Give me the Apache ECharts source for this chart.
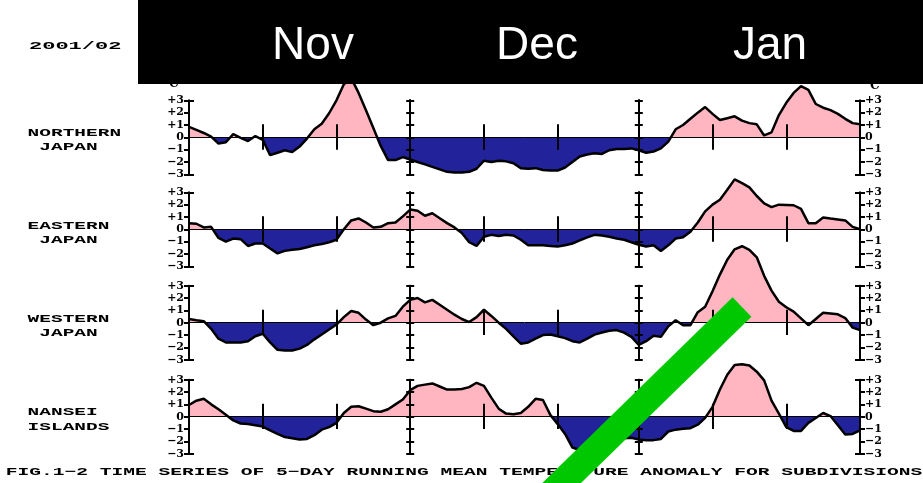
<!DOCTYPE html>
<html><head><meta charset="utf-8">
<script src="https://cdn.jsdelivr.net/npm/echarts@6/dist/echarts.min.js"></script>
<style>html,body{margin:0;padding:0;background:#fff}#c{width:923px;height:483px}</style>
</head><body><div id="c"></div>
<script>
// ---- data ----
const monthNames = ['Nov', 'Dec', 'Jan'];
const monthNums = [11, 12, 1];
const monthDays = [30, 31, 31];
const categories = [];
monthNums.forEach((m, k) => { for (let d = 1; d <= monthDays[k]; d++) categories.push(m + '/' + d); });

const regionNames = [['NORTHERN', 'JAPAN'], ['EASTERN', 'JAPAN'], ['WESTERN', 'JAPAN'], ['NANSEI', 'ISLANDS']];

const northern = [0.85,0.6,0.35,0.05,-0.5,-0.4,0.25,-0.05,-0.3,0.1,
-0.2,-1.45,-1.25,-1.05,-1.2,-0.75,-0.1,0.65,1.1,1.95,
3.0,4.3,4.8,3.6,2.2,0.75,-0.7,-1.85,-1.85,-1.6,
-1.8,-2.0,-2.2,-2.4,-2.6,-2.8,-2.85,-2.85,-2.8,-2.55,
-1.9,-2.0,-1.9,-1.95,-2.1,-2.5,-2.55,-2.5,-2.65,-2.7,
-2.7,-2.45,-2.0,-1.55,-1.4,-1.3,-1.35,-1.05,-0.95,-0.95,
-0.9,-1.05,-1.25,-1.15,-0.9,-0.35,0.65,1.0,1.5,2.0,
2.45,1.9,1.4,1.55,1.7,1.35,1.15,1.05,0.15,0.4,
1.8,2.8,3.6,4.15,3.85,2.7,2.4,2.2,1.9,1.5,
1.15,1.05];

const eastern = [0.5,0.45,0.15,0.2,-0.7,-1.0,-0.75,-0.8,-1.35,-1.15,
-1.15,-1.55,-1.95,-1.75,-1.65,-1.6,-1.45,-1.3,-1.2,-1.05,
-0.85,0.0,0.72,0.88,0.55,0.15,0.2,0.5,0.55,1.05,
1.6,1.5,1.1,1.3,0.9,0.5,0.15,-0.3,-1.05,-1.35,
-0.6,-0.45,-0.55,-0.45,-0.5,-0.85,-1.3,-1.3,-1.3,-1.35,
-1.4,-1.3,-1.15,-0.9,-0.65,-0.45,-0.5,-0.6,-0.75,-0.85,
-1.05,-1.25,-1.4,-1.3,-1.75,-1.3,-0.75,-0.65,-0.2,0.55,
1.45,2.0,2.4,3.2,4.05,3.75,3.4,2.7,2.1,1.8,
2.0,1.98,1.95,1.65,0.5,0.5,0.95,0.87,0.8,0.72,
0.2,0.0];

const western = [0.3,0.2,0.12,-0.5,-1.3,-1.6,-1.6,-1.6,-1.5,-1.1,
-0.9,-1.6,-2.2,-2.25,-2.25,-2.1,-1.8,-1.35,-0.95,-0.55,
-0.15,0.45,0.95,0.8,0.25,-0.2,0.0,0.35,0.55,1.3,
1.85,2.0,1.65,1.85,1.45,1.05,0.65,0.3,0.05,0.45,
1.05,0.55,0.0,-0.5,-1.1,-1.7,-1.6,-1.3,-1.0,-0.95,
-1.1,-1.25,-1.5,-1.6,-1.3,-0.97,-0.8,-0.65,-0.6,-0.8,
-1.15,-1.8,-1.5,-1.05,-1.15,-0.3,0.2,-0.2,-0.2,0.85,
1.3,2.55,3.9,5.1,5.95,6.2,5.9,5.3,3.8,2.6,
1.7,1.25,0.9,0.35,-0.2,0.3,0.8,0.75,0.68,0.38,
-0.4,-0.6];

const nansei = [0.95,1.3,1.45,1.0,0.6,0.15,-0.3,-0.55,-0.6,-0.7,
-0.8,-1.1,-1.4,-1.65,-1.75,-1.85,-1.8,-1.5,-1.05,-0.85,
-0.5,0.3,0.8,0.85,0.65,0.45,0.4,0.6,1.0,1.4,
2.15,2.5,2.6,2.7,2.45,2.2,2.2,2.25,2.4,2.75,
2.5,1.55,0.65,0.25,0.2,0.3,0.8,1.45,1.35,0.15,
-0.6,-1.4,-2.5,-2.7,-2.8,-2.6,-2.2,-1.9,-1.8,-1.75,
-1.7,-1.85,-1.9,-1.9,-1.8,-1.2,-1.05,-0.98,-0.93,-0.65,
-0.1,0.8,2.2,3.4,4.2,4.25,4.15,3.65,2.95,1.3,
0.25,-0.85,-1.15,-1.15,-0.5,-0.1,0.3,0.05,-0.7,-1.45,
-1.4,-1.1];

const seriesData = [northern, eastern, western, nansei];
const tenDayTicks = ['11/11', '11/21', '12/11', '12/21', '1/11', '1/21'];
const monthStarts = ['12/1', '1/1'];
const yearLabel = '2001/02';
const caption = 'FIG.1\u22122 TIME SERIES OF 5\u2212DAY RUNNING MEAN TEMPERATURE ANOMALY FOR SUBDIVISIONS';

// ---- layout ----
const PINK = '#ffb6c1', NAVY = '#22229a';
const plotLeft = 189, plotWidth = 671;
const gridTops = [100.3, 192.3, 285.7, 379.7];
const gridH = 74;
const labelFont = {color: '#000', fontFamily: 'DejaVu Serif', fontWeight: 'bold', fontSize: 11};
const fmt = v => v > 0 ? '+' + v : (v < 0 ? '\u2212' + (-v) : '0');
const blackLine = {color: '#000', width: 2};

const grid = [], xAxis = [], yAxis = [], series = [];
gridTops.forEach((top, g) => {
  grid.push({left: plotLeft, width: plotWidth, top: top, height: gridH, containLabel: false, outerBoundsMode: 'none'});
  const base = yAxis.length;
  xAxis.push({gridIndex: g, type: 'category', data: categories, boundaryGap: false, z: 4,
    axisLine: {onZero: true, onZeroAxisIndex: base, lineStyle: {color: '#000', width: 1}},
    axisTick: {show: false}, axisLabel: {show: false}, splitLine: {show: false}});
  const common = {gridIndex: g, type: 'value', min: -3, max: 3, interval: 1, splitLine: {show: false}, z: 4};
  ['left', 'right'].forEach(pos => {
    yAxis.push(Object.assign({}, common, {position: pos,
      axisLine: {show: true, onZero: false, lineStyle: blackLine},
      axisTick: {show: true, inside: false, length: 5, lineStyle: blackLine},
      axisLabel: Object.assign({show: true, margin: 5, formatter: fmt}, labelFont)}));
    yAxis.push(Object.assign({}, common, {position: pos,
      axisLine: {show: false, onZero: false},
      axisTick: {show: true, inside: true, length: 5, customValues: [-3, 3], lineStyle: blackLine},
      axisLabel: {show: false}}));
  });
  monthStarts.forEach(c => {
    const off = -(categories.indexOf(c) / (categories.length - 1)) * plotWidth;
    [false, true].forEach(inside => {
      yAxis.push(Object.assign({}, common, {position: 'left', offset: off,
        axisLine: {show: true, onZero: false, lineStyle: blackLine},
        axisTick: {show: true, inside: inside, length: 4, lineStyle: blackLine},
        axisLabel: {show: false}}));
    });
  });
  series.push({type: 'line', name: regionNames[g].join(' '), xAxisIndex: g, yAxisIndex: base,
    data: seriesData[g], symbol: 'none', showSymbol: false, clip: false, z: 2,
    lineStyle: {color: '#000', width: 2.5}, areaStyle: {opacity: 1},
    emphasis: {disabled: true}, silent: true,
    markLine: {silent: true, symbol: 'none', animation: false, label: {show: false},
      emphasis: {disabled: true}, z: 5,
      lineStyle: {color: '#000', width: 2, type: 'solid'},
      data: tenDayTicks.map(c => [{coord: [categories.indexOf(c), 1.05]}, {coord: [categories.indexOf(c), -1]}])}
  });
});

// ---- text / decorations ----
const monoFont = 'bold 11px "Liberation Mono"';
const SX = 1.77, COL = 11.7, COL0 = 27.6;
const regionY = [[133, 147.2], [226.5, 240.5], [319, 333.5], [412.2, 427.2]];
const regionCol = [[0, 1], [0, 1], [0, 1], [0, 0]];
const graphic = [];
graphic.push({type: 'text', x: 163, y: 90, z: 50, style: {text: '\u00b0C', font: 'bold 12px "DejaVu Serif"', fill: '#000', align: 'left', verticalAlign: 'bottom'}});
graphic.push({type: 'text', x: 864, y: 91.5, z: 50, style: {text: '\u00b0C', font: 'bold 12px "DejaVu Serif"', fill: '#000', align: 'left', verticalAlign: 'bottom'}});
graphic.push({type: 'rect', shape: {x: 138, y: 0, width: 785, height: 84}, style: {fill: '#000'}, z: 100});
const monthX = [313, 537, 770];
monthNames.forEach((m, k) => graphic.push({type: 'text', x: monthX[k], y: 46, z: 101,
  style: {text: m, font: '46px "Liberation Sans"', fill: '#fff', align: 'center', verticalAlign: 'middle'}}));
graphic.push({type: 'text', x: 29, y: 46, scaleX: 2.0, z: 101, style: {text: yearLabel, font: monoFont, fill: '#000', align: 'left', verticalAlign: 'middle'}});
regionNames.forEach((pair, g) => pair.forEach((t, j) => graphic.push({type: 'text',
  x: COL0 + regionCol[g][j] * COL, y: regionY[g][j], scaleX: SX, z: 101,
  style: {text: t, font: monoFont, fill: '#000', align: 'left', verticalAlign: 'middle'}})));
graphic.push({type: 'text', x: 5.8, y: 472.2, scaleX: 1.78, z: 101, style: {text: caption, font: monoFont, fill: '#000', align: 'left', verticalAlign: 'middle'}});
graphic.push({type: 'line', shape: {x1: 742, y1: 307, x2: 534, y2: 510}, z: 200, style: {stroke: '#00c800', lineWidth: 27, lineCap: 'butt'}});

const chart = echarts.init(document.getElementById('c'), null, {renderer: 'canvas'});
chart.setOption({
  animation: false,
  backgroundColor: '#fff',
  grid, xAxis, yAxis, series, graphic,
  visualMap: {type: 'piecewise', show: false, seriesIndex: [0, 1, 2, 3], dimension: 1,
    pieces: [{gte: -30, lt: 0, color: NAVY}, {gte: 0, lte: 30, color: PINK}]}
});
</script></body></html>
